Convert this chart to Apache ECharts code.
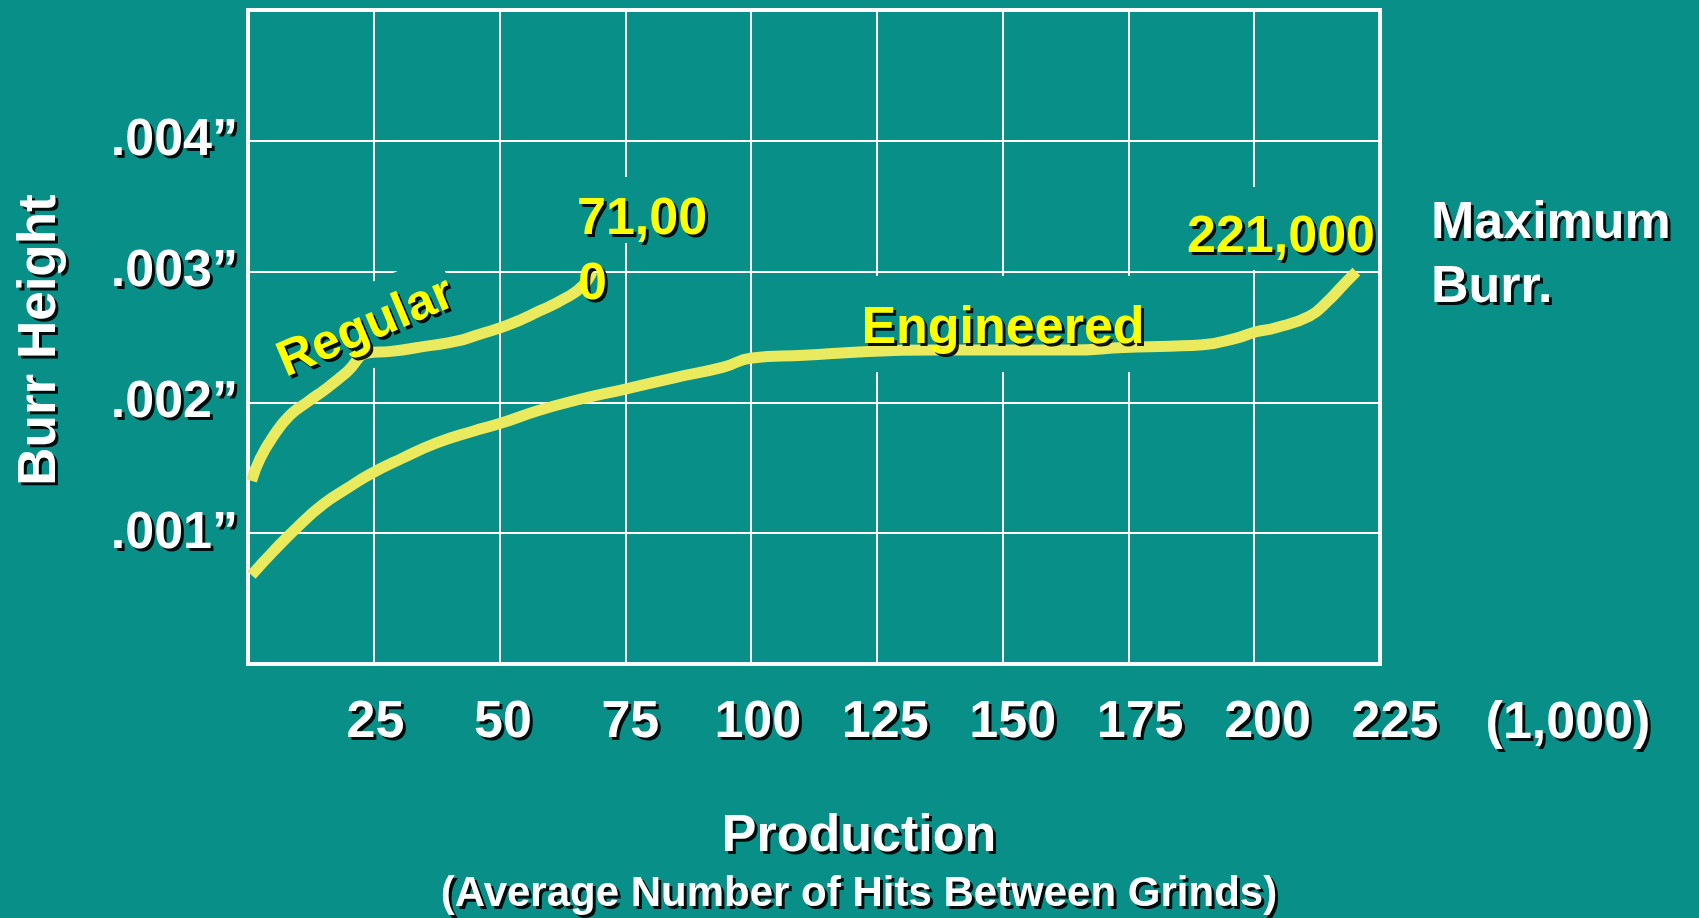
<!DOCTYPE html>
<html>
<head>
<meta charset="utf-8">
<script src="https://cdn.jsdelivr.net/npm/echarts@6/dist/echarts.min.js"></script>
<style>
  html, body { margin: 0; padding: 0; background: #078F88; }
  #chart { width: 1699px; height: 918px; }
</style>
</head>
<body>
<div id="chart"></div>
<script>
// Production in thousands of hits between grinds
const xTickLabels = ['25', '50', '75', '100', '125', '150', '175', '200', '225'];
// Burr height in thousandths of an inch
const yTickLabels = ['.001”', '.002”', '.003”', '.004”'];

const regularX = [0.7, 2.4, 5.0, 8.3, 11.7, 15.7, 19.6, 24.0, 28.4, 35.4, 41.7, 45.9, 51.6, 58.0, 63.2, 66.5, 68.4];
const regularY = [1.40, 1.57, 1.74, 1.90, 2.00, 2.11, 2.23, 2.38, 2.39, 2.43, 2.47, 2.52, 2.59, 2.70, 2.80, 2.89, 3.00];

const engineeredX = [0.7, 5.0, 9.9, 14.9, 19.6, 24.2, 30.5, 37.5, 44.7, 50.2, 57.9, 65.6, 74.8, 84.9, 94.5, 100.2, 110.5, 123.3, 136.3, 150.8, 163.6, 174.2, 183.2, 189.8, 196.3, 200.4, 204.3, 211.0, 214.5, 218.0, 220.3];
const engineeredY = [0.68, 0.86, 1.05, 1.22, 1.34, 1.45, 1.57, 1.69, 1.78, 1.84, 1.94, 2.02, 2.10, 2.19, 2.27, 2.34, 2.36, 2.39, 2.40, 2.40, 2.40, 2.42, 2.43, 2.44, 2.49, 2.54, 2.57, 2.66, 2.77, 2.91, 3.00];

const BG = '#078F88';
const LINE = '#EAEA5E';
const FONT = "'Liberation Sans', Arial, sans-serif";
const shadow = { textShadowColor: 'rgba(0,0,0,0.9)', textShadowOffsetX: 3, textShadowOffsetY: 3, textShadowBlur: 0.1 };

function txt(opts) {
  const s = Object.assign({
    fill: '#fff', fontSize: 52, fontWeight: 'bold', fontFamily: FONT,
    align: 'center', verticalAlign: 'middle'
  }, shadow, opts.style);
  s.textAlign = s.align;
  s.textVerticalAlign = s.verticalAlign;
  return { type: 'text', x: opts.x, y: opts.y, rotation: opts.rotation || 0, z: opts.z || 5, style: s };
}
// background patch that the slide's text boxes leave over the grid lines
function patch(x, y, w, h, rotation) {
  return { type: 'rect', x: x, y: y, rotation: rotation || 0, z: 1,
    shape: rotation ? { x: -w / 2, y: -h / 2, width: w, height: h } : { x: 0, y: 0, width: w, height: h },
    style: { fill: BG } };
}

const labelStyle = { color: '#fff', fontSize: 52, fontWeight: 'bold', fontFamily: FONT };
const ROT = 23 * Math.PI / 180;

const chart = echarts.init(document.getElementById('chart'), null, { renderer: 'canvas' });
chart.setOption({
  backgroundColor: BG,
  animation: false,
  grid: [
    { left: 248, right: 319, top: 10, bottom: 254,
      show: true, borderColor: '#fff', borderWidth: 4, backgroundColor: 'transparent' },
    // label-only band for the production tick labels (they sit on a slightly wider spacing)
    { left: 248, right: 304, top: 10, bottom: 254, show: false }
  ],
  xAxis: [
    {
      type: 'value', min: 0, max: 225, interval: 25, gridIndex: 0,
      axisLine: { show: false }, axisTick: { show: false }, axisLabel: { show: false },
      splitLine: { show: true, lineStyle: { color: '#fff', width: 2 } }
    },
    {
      type: 'value', min: 0, max: 225, interval: 25, gridIndex: 1,
      axisLine: { show: false }, axisTick: { show: false }, splitLine: { show: false },
      axisLabel: Object.assign({}, labelStyle, shadow, {
        margin: 33, showMinLabel: true, showMaxLabel: true,
        formatter: function (v) {
          const i = Math.round(v / 25) - 1;
          return i >= 0 && i < xTickLabels.length ? xTickLabels[i] : '';
        }
      })
    }
  ],
  yAxis: [
    {
      type: 'value', min: 0, max: 5, interval: 1, gridIndex: 0,
      axisLine: { show: false }, axisTick: { show: false },
      splitLine: { show: true, lineStyle: { color: '#fff', width: 2 } },
      axisLabel: Object.assign({}, labelStyle, shadow, {
        margin: 10,
        formatter: function (v) {
          const i = Math.round(v) - 1;
          return i >= 0 && i < yTickLabels.length ? yTickLabels[i] : '';
        }
      })
    },
    { type: 'value', min: 0, max: 5, gridIndex: 1, show: false }
  ],
  series: [
    {
      name: 'Regular', type: 'line', z: 3, xAxisIndex: 0, yAxisIndex: 0,
      data: regularX.map((x, i) => [x, regularY[i]]),
      showSymbol: false, smooth: 0.5,
      lineStyle: { color: LINE, width: 11, cap: 'butt' }
    },
    {
      name: 'Engineered', type: 'line', z: 3, xAxisIndex: 0, yAxisIndex: 0,
      data: engineeredX.map((x, i) => [x, engineeredY[i]]),
      showSymbol: false, smooth: 0.5,
      lineStyle: { color: LINE, width: 11, cap: 'butt' }
    }
  ],
  graphic: [
    patch(575, 177, 133, 66),
    patch(1185, 187, 192, 83),
    patch(858, 276, 292, 96),
    patch(366, 328, 190, 80, ROT),
    txt({ x: 40, y: 340, rotation: Math.PI / 2, style: { text: 'Burr Height', fontSize: 53 } }),
    txt({ x: 859, y: 837, style: { text: 'Production', fontSize: 52 } }),
    txt({ x: 859, y: 894, style: { text: '(Average Number of Hits Between Grinds)', fontSize: 42 } }),
    txt({ x: 1568, y: 724, style: { text: '(1,000)', fontSize: 52 } }),
    txt({ x: 1431, y: 224, style: { text: 'Maximum', align: 'left' } }),
    txt({ x: 1431, y: 288, style: { text: 'Burr.', align: 'left' } }),
    txt({ x: 577, y: 220, style: { text: '71,00', fill: '#FFFF00', align: 'left' } }),
    txt({ x: 578, y: 285, style: { text: '0', fill: '#FFFF00', align: 'left' } }),
    txt({ x: 1187, y: 238, style: { text: '221,000', fill: '#FFFF00', align: 'left' } }),
    txt({ x: 1003, y: 329, style: { text: 'Engineered', fill: '#FFFF00' } }),
    txt({ x: 366, y: 328, rotation: ROT, style: { text: 'Regular', fill: '#FFFF00', fontSize: 50 } })
  ]
});
</script>
</body>
</html>
